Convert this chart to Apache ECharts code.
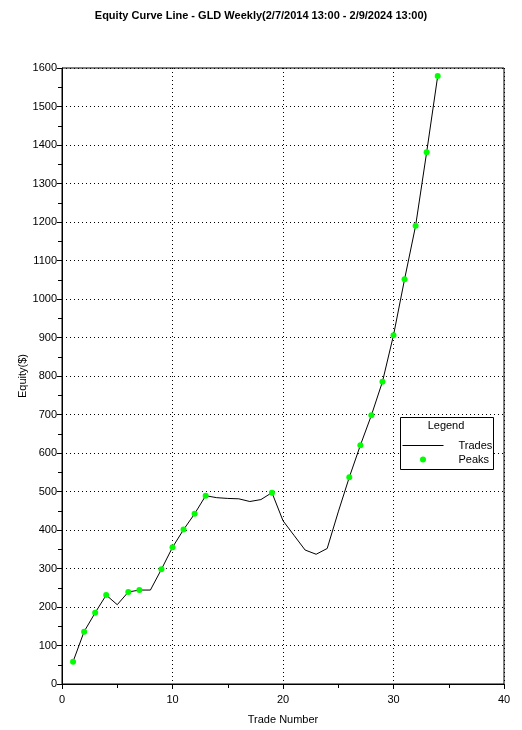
<!DOCTYPE html>
<html>
<head>
<meta charset="utf-8">
<script src="https://cdn.jsdelivr.net/npm/echarts@6/dist/echarts.min.js"></script>
<style>
  html, body { margin: 0; padding: 0; background: #fff; }
  #chart { width: 522px; height: 730px; }
</style>
</head>
<body>
<div id="chart"></div>
<script>
// trade numbers and equity after each trade
var tradeNums = [1, 2, 3, 4, 5, 6, 7, 8, 9, 10, 11, 12, 13, 14, 15, 16, 17,
  18, 19, 20, 21, 22, 23, 24, 25, 26, 27, 28, 29, 30, 31, 32, 33, 34];
var equity = [58, 136, 185, 231, 206, 239, 244, 244, 298, 355, 401, 442, 489,
  484, 482, 481, 474, 479, 497, 424, 386, 348, 337, 352, 447, 537, 620, 698,
  785, 906, 1051, 1190, 1381, 1579];
// trades that set a new equity high
var peakNums = [1, 2, 3, 4, 6, 7, 9, 10, 11, 12, 13, 19, 26, 27, 28, 29, 30,
  31, 32, 33, 34];

var font = 'Liberation Sans, Arial, sans-serif';

var tradeData = tradeNums.map(function (n, i) { return [n, equity[i]]; });
var peakData = peakNums.map(function (n) {
  return [n, equity[tradeNums.indexOf(n)]];
});

var dotted = { color: '#000', width: 1, type: [1, 3] };

var chart = echarts.init(document.getElementById('chart'));
chart.setOption({
  animation: false,
  backgroundColor: '#fff',
  title: {
    text: 'Equity Curve Line - GLD Weekly(2/7/2014 13:00 - 2/9/2024 13:00)',
    left: 'center',
    top: 5,
    textStyle: { fontFamily: font, fontSize: 11, fontWeight: 'bold', color: '#000' }
  },
  grid: {
    left: 62, right: 18, top: 68, bottom: 43,
    show: true, borderColor: '#000', borderWidth: 1
  },
  legend: {
    orient: 'vertical',
    left: 402,
    top: 440,
    padding: 0,
    itemWidth: 41,
    itemHeight: 6,
    itemGap: 3,
    textStyle: { fontFamily: font, fontSize: 11, color: '#000', padding: [0, 0, 0, 10] },
    data: [
      { name: 'Trades', itemStyle: { opacity: 0 }, lineStyle: { width: 1, color: '#000' } },
      { name: 'Peaks' }
    ]
  },
  graphic: [
    {
      type: 'rect',
      shape: { x: 400.5, y: 417.5, width: 93, height: 52 },
      style: { fill: '#fff', stroke: '#000', lineWidth: 1 },
      z: 1
    },
    {
      type: 'text',
      x: 446, y: 426,
      style: {
        text: 'Legend', fontFamily: font, fontSize: 11, fill: '#000',
        align: 'center', verticalAlign: 'middle'
      },
      z: 5
    }
  ],
  xAxis: {
    type: 'value',
    min: 0, max: 40, interval: 10,
    name: 'Trade Number',
    nameLocation: 'middle',
    nameGap: 30,
    nameTextStyle: { fontFamily: font, fontSize: 11, color: '#000' },
    axisLine: { lineStyle: { color: '#000' } },
    axisTick: { length: 5, lineStyle: { color: '#000' } },
    minorTick: { show: true, splitNumber: 2, length: 4, lineStyle: { color: '#000' } },
    axisLabel: { fontFamily: font, fontSize: 11, color: '#000', margin: 10 },
    splitLine: { show: true, lineStyle: dotted }
  },
  yAxis: {
    type: 'value',
    min: 0, max: 1600, interval: 100,
    name: 'Equity($)',
    nameLocation: 'middle',
    nameGap: 34,
    nameMoveOverlap: false,
    nameTextStyle: { fontFamily: font, fontSize: 11, color: '#000' },
    axisLine: { show: true, lineStyle: { color: '#000' } },
    axisTick: { show: true, length: 5, lineStyle: { color: '#000' } },
    minorTick: { show: true, splitNumber: 2, length: 4, lineStyle: { color: '#000' } },
    axisLabel: {
      fontFamily: font, fontSize: 11, color: '#000', margin: 5,
      formatter: function (v) { return String(v); }
    },
    splitLine: { show: true, lineStyle: dotted }
  },
  series: [
    {
      name: 'Trades',
      type: 'line',
      data: tradeData,
      showSymbol: false,
      symbol: 'none',
      lineStyle: { color: '#000', width: 1 },
      itemStyle: { color: '#000' },
      z: 3
    },
    {
      name: 'Peaks',
      type: 'scatter',
      data: peakData,
      symbol: 'circle',
      symbolSize: 6,
      itemStyle: { color: '#00ff00', opacity: 1 },
      z: 4
    }
  ]
});
</script>
</body>
</html>
